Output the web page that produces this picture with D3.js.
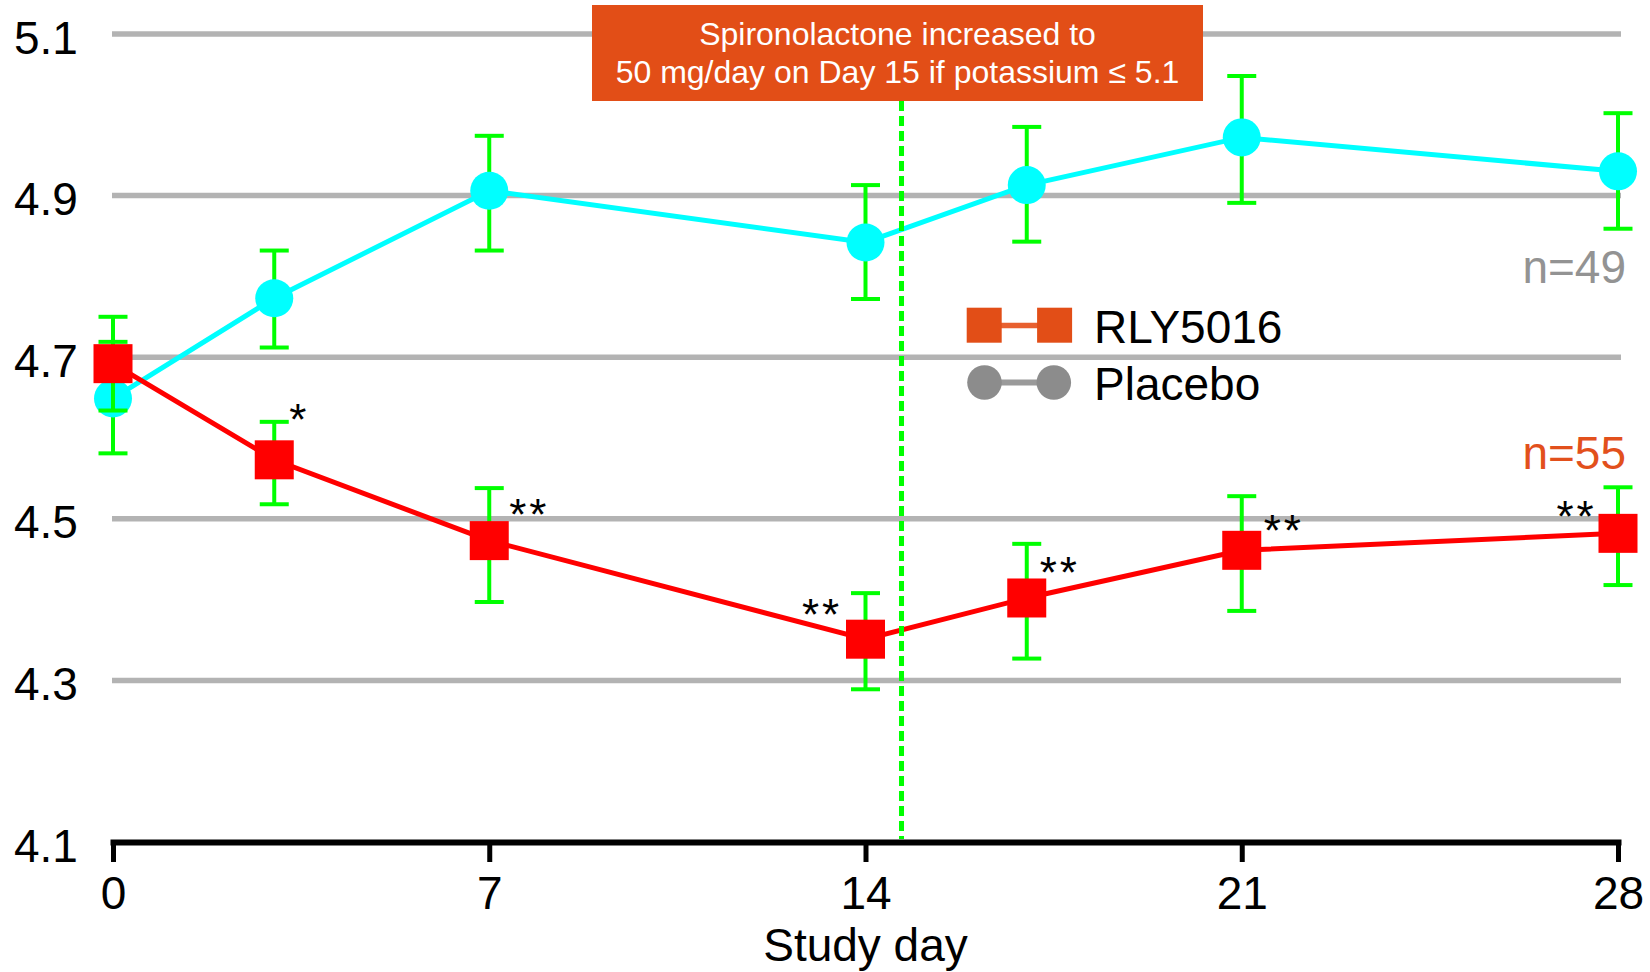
<!DOCTYPE html>
<html>
<head>
<meta charset="utf-8">
<script src="https://cdn.jsdelivr.net/npm/d3@7"></script>
<style>
  body { margin: 0; background: #fff; }
  svg { display: block; font-family: "Liberation Sans", Arial, sans-serif; }
</style>
</head>
<body>
<svg id="chart"></svg>
<script>
// Study days and measured values (potassium, mean with error bar ends)
const days = [0, 3, 7, 14, 17, 21, 28];

const placeboMean = [4.649, 4.773, 4.906, 4.842, 4.913, 4.972, 4.930];
const placeboLow  = [4.581, 4.712, 4.832, 4.772, 4.843, 4.891, 4.859];
const placeboHigh = [4.719, 4.832, 4.974, 4.913, 4.985, 5.048, 5.002];

const rlyMean = [4.692, 4.573, 4.473, 4.351, 4.402, 4.461, 4.482];
const rlyLow  = [4.634, 4.518, 4.397, 4.289, 4.327, 4.386, 4.418];
const rlyHigh = [4.750, 4.620, 4.538, 4.408, 4.469, 4.528, 4.539];

const rlySignif = ['', '*', '**', '**', '**', '**', '**'];

const yTicks = [4.1, 4.3, 4.5, 4.7, 4.9, 5.1];
const xTicks = [0, 7, 14, 21, 28];

const doseChangeDay = 14.67;
const seriesNames = ['RLY5016', 'Placebo'];
const sampleSizes = ['n=55', 'n=49'];
const noteLines = ['Spironolactone increased to', '50 mg/day on Day 15 if potassium \u2264 5.1'];

// where the asterisks sit next to each point (px)
const starOffset = [null, [25, -52], [40, -37.5], [-43.5, -36], [33, -37], [42, -31], [-41.5, -28]];

const width = 1650, height = 972;
const svg = d3.select('#chart').attr('width', width).attr('height', height);

const x = d3.scaleLinear().domain([0, 28]).range([113, 1618]);
const y = d3.scaleLinear().domain([4.1, 5.1]).range([842, 34]);

// grid lines
svg.append('g')
  .selectAll('line')
  .data(yTicks.filter(d => d > 4.1))
  .enter().append('line')
  .attr('x1', x(0) - 1).attr('x2', x(28) + 3)
  .attr('y1', d => y(d)).attr('y2', d => y(d))
  .attr('stroke', '#b3b3b3').attr('stroke-width', 5.5);

// y labels
svg.append('g')
  .selectAll('text')
  .data(yTicks)
  .enter().append('text')
  .attr('x', 14).attr('y', d => y(d) + 19.5)
  .attr('font-size', 46).attr('fill', '#000')
  .text(d => d.toFixed(1));

// x axis
const xAxis = svg.append('g')
  .attr('transform', 'translate(0,' + y(4.1) + ')')
  .call(d3.axisBottom(x).tickValues(xTicks).tickSizeInner(20).tickSizeOuter(0).tickFormat(d3.format('d')));
xAxis.select('.domain').attr('stroke', '#000').attr('stroke-width', 6).attr('stroke-linecap', 'square');
xAxis.selectAll('.tick line').attr('stroke', '#000').attr('stroke-width', 5);
xAxis.selectAll('.tick text')
  .attr('y', 67).attr('dy', 0)
  .attr('font-size', 46).attr('font-family', '"Liberation Sans", Arial, sans-serif').attr('fill', '#000');

svg.append('text')
  .attr('x', x(14)).attr('y', 961)
  .attr('text-anchor', 'middle').attr('font-size', 46)
  .text('Study day');

// one series: line, error bars, markers
function drawSeries(mean, low, high, color, shape) {
  const pts = days.map((d, i) => ({ day: d, m: mean[i], lo: low[i], hi: high[i] }));

  const line = d3.line().x(d => x(d.day)).y(d => y(d.m));
  svg.append('path').datum(pts)
    .attr('d', line).attr('fill', 'none')
    .attr('stroke', color).attr('stroke-width', 5);

  const bars = svg.append('g').attr('stroke', '#00ff00').attr('stroke-width', 4);
  bars.selectAll('.v').data(pts).enter().append('line')
    .attr('x1', d => x(d.day)).attr('x2', d => x(d.day))
    .attr('y1', d => y(d.lo)).attr('y2', d => y(d.hi));
  ['lo', 'hi'].forEach(k => {
    bars.selectAll('.c' + k).data(pts).enter().append('line')
      .attr('x1', d => x(d.day) - 14.5).attr('x2', d => x(d.day) + 14.5)
      .attr('y1', d => y(d[k])).attr('y2', d => y(d[k]));
  });

  if (shape === 'circle') {
    svg.append('g').selectAll('circle').data(pts).enter().append('circle')
      .attr('cx', d => x(d.day)).attr('cy', d => y(d.m)).attr('r', 19)
      .attr('fill', color);
  } else {
    svg.append('g').selectAll('rect').data(pts).enter().append('rect')
      .attr('x', d => x(d.day) - 19.5).attr('y', d => y(d.m) - 19.5)
      .attr('width', 39).attr('height', 39)
      .attr('fill', color);
  }
}

drawSeries(placeboMean, placeboLow, placeboHigh, '#00ffff', 'circle');
drawSeries(rlyMean, rlyLow, rlyHigh, '#ff0000', 'square');

// significance marks
svg.append('g').selectAll('text')
  .data(days.map((d, i) => ({ day: d, m: rlyMean[i], s: rlySignif[i], off: starOffset[i] })).filter(d => d.s))
  .enter().append('text')
  .attr('x', d => x(d.day) + d.off[0]).attr('y', d => y(d.m) + d.off[1] + 27)
  .attr('text-anchor', 'middle').attr('font-size', 44).attr('letter-spacing', 3)
  .text(d => d.s);

// dose change line
svg.append('line')
  .attr('x1', x(doseChangeDay)).attr('x2', x(doseChangeDay))
  .attr('y1', 101).attr('y2', y(4.1) - 3)
  .attr('stroke', '#00ff00').attr('stroke-width', 5)
  .attr('stroke-dasharray', '10,5');

// annotation box
svg.append('rect')
  .attr('x', 592).attr('y', 5).attr('width', 611).attr('height', 96)
  .attr('fill', '#e24e17');
svg.append('g').selectAll('text').data(noteLines).enter().append('text')
  .attr('x', 897.5).attr('y', (d, i) => 45 + i * 38.3)
  .attr('text-anchor', 'middle').attr('font-size', 32).attr('fill', '#fff')
  .text(d => d);

// legend
const lg = svg.append('g');
lg.append('line').attr('x1', 984).attr('x2', 1054).attr('y1', 325.5).attr('y2', 325.5)
  .attr('stroke', '#e8602f').attr('stroke-width', 5.5);
[984.2, 1054.6].forEach(cx => {
  lg.append('rect').attr('x', cx - 17.5).attr('y', 307.7).attr('width', 35).attr('height', 35)
    .attr('fill', '#e24e17');
});
lg.append('line').attr('x1', 984).attr('x2', 1054).attr('y1', 382.5).attr('y2', 382.5)
  .attr('stroke', '#9a9a9a').attr('stroke-width', 6);
[984.5, 1053.8].forEach(cx => {
  lg.append('circle').attr('cx', cx).attr('cy', 382.5).attr('r', 17.3).attr('fill', '#8c8c8c');
});
lg.selectAll('text').data(seriesNames).enter().append('text')
  .attr('x', 1094).attr('y', (d, i) => 343.3 + i * 57)
  .attr('font-size', 46).attr('fill', '#000')
  .text(d => d);

// sample sizes
svg.append('text').attr('x', 1626).attr('y', 469.3).attr('text-anchor', 'end')
  .attr('font-size', 46).attr('fill', '#e2501c').text(sampleSizes[0]);
svg.append('text').attr('x', 1626).attr('y', 283.3).attr('text-anchor', 'end')
  .attr('font-size', 46).attr('fill', '#939393').text(sampleSizes[1]);
</script>
</body>
</html>
